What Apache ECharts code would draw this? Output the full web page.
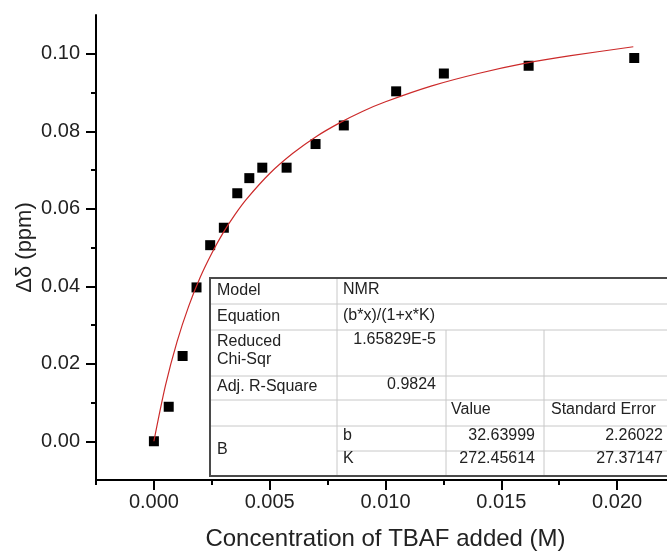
<!DOCTYPE html>
<html>
<head>
<meta charset="utf-8">
<script src="https://cdn.jsdelivr.net/npm/echarts@6/dist/echarts.min.js"></script>
<style>
html,body{margin:0;padding:0;background:#fff;}
#chart{width:667px;height:553px;}
</style>
</head>
<body>
<div id="chart"></div>
<script>
// Measured points
const concX = [0, 0.00064, 0.00124, 0.00184, 0.00243, 0.00302, 0.0036, 0.00412, 0.00468, 0.00573, 0.00698, 0.0082, 0.01046, 0.01252, 0.01618, 0.02074];
const shiftY = [0, 0.0089, 0.0220, 0.0397, 0.0506, 0.0551, 0.0640, 0.0679, 0.0706, 0.0706, 0.0767, 0.0815, 0.0903, 0.0949, 0.0969, 0.0989];
// Fitted curve
const fitX = [0, 0.0005, 0.001, 0.0015, 0.002, 0.0025, 0.003, 0.0035, 0.004, 0.005, 0.006, 0.007, 0.008, 0.009, 0.010, 0.012, 0.014, 0.016, 0.018, 0.0207];
const fitY = [0, 0.0144, 0.0257, 0.0348, 0.0423, 0.0485, 0.0539, 0.0585, 0.0625, 0.0691, 0.0743, 0.0786, 0.0821, 0.0851, 0.0876, 0.0917, 0.0949, 0.0975, 0.0995, 0.1018];
// Ticks
const xMajorTicks = [0, 0.005, 0.010, 0.015, 0.020];
const xMinorTicks = [-0.0025, 0.0025, 0.0075, 0.0125, 0.0175, 0.0225];
const yMajorTicks = [0, 0.02, 0.04, 0.06, 0.08, 0.10];
const yMinorTicks = [0.01, 0.03, 0.05, 0.07, 0.09];
// Table
const tableRows = [
  ['Model', 'NMR'],
  ['Equation', '(b*x)/(1+x*K)'],
  ['Reduced', 'Chi-Sqr', '1.65829E-5'],
  ['Adj. R-Square', '0.9824'],
  ['Value', 'Standard Error'],
  ['B', 'b', '32.63999', '2.26022'],
  ['K', '272.45614', '27.37147']
];

const FONT = '"Liberation Sans", Arial, sans-serif';
const TXT = '#222';

const chart = echarts.init(document.getElementById('chart'), null, {renderer: 'canvas'});

function axisCommon(){
  return {
    type: 'value',
    splitLine: {show: false},
    axisLine: {show: true, onZero: false, lineStyle: {color: '#000', width: 2}}
  };
}

const xMain = Object.assign(axisCommon(), {
  min: -0.0025, max: 0.0225,
  name: 'Concentration of TBAF added (M)', nameLocation: 'middle', nameGap: 47,
  nameTextStyle: {fontSize: 24, color: TXT, fontFamily: FONT},
  axisTick: {show: true, length: 10, lineStyle: {color: '#000', width: 2}, customValues: xMajorTicks},
  axisLabel: {show: true, margin: 12, fontSize: 20, color: TXT, fontFamily: FONT, customValues: xMajorTicks,
    formatter: v => v.toFixed(3)}
});
const xMinor = Object.assign(axisCommon(), {
  min: -0.0025, max: 0.0225, position: 'bottom',
  axisLine: {show: false, onZero: false},
  axisTick: {show: true, length: 5, lineStyle: {color: '#000', width: 2}, customValues: xMinorTicks},
  axisLabel: {show: false}
});
const yMain = Object.assign(axisCommon(), {
  min: -0.01, max: 0.11,
  name: 'Δδ (ppm)', nameLocation: 'middle', nameGap: 60, nameMoveOverlap: false,
  nameTextStyle: {fontSize: 22, color: TXT, fontFamily: FONT},
  axisTick: {show: true, length: 10, lineStyle: {color: '#000', width: 2}, customValues: yMajorTicks},
  axisLabel: {show: true, margin: 16, fontSize: 20, color: TXT, fontFamily: FONT, customValues: yMajorTicks,
    formatter: v => v.toFixed(2)}
});
const yMinor = Object.assign(axisCommon(), {
  min: -0.01, max: 0.11, position: 'left',
  axisLine: {show: false, onZero: false},
  axisTick: {show: true, length: 5, lineStyle: {color: '#000', width: 2}, customValues: yMinorTicks},
  axisLabel: {show: false}
});

// table graphics
const TL = 210, TT = 278, TB = 476, TR = 720;
const C1 = 337, C2 = 446, C3 = 544;
const rowLines = [304, 330, 376, 400, 426];
const g = [];
g.push({type: 'rect', shape: {x: TL, y: TT, width: TR - TL, height: TB - TT},
  style: {fill: '#fff', stroke: '#4a4a4a', lineWidth: 2}, z: 10});
const lineStyle = {stroke: '#c8c8c8', lineWidth: 1};
rowLines.forEach(y => g.push({type: 'line', shape: {x1: TL + 1, y1: y, x2: TR, y2: y}, style: lineStyle, z: 11}));
g.push({type: 'line', shape: {x1: C1, y1: 451, x2: TR, y2: 451}, style: lineStyle, z: 11});
g.push({type: 'line', shape: {x1: C1, y1: TT + 1, x2: C1, y2: TB - 1}, style: lineStyle, z: 11});
g.push({type: 'line', shape: {x1: C2, y1: 330, x2: C2, y2: TB - 1}, style: lineStyle, z: 11});
g.push({type: 'line', shape: {x1: C3, y1: 330, x2: C3, y2: TB - 1}, style: lineStyle, z: 11});
function t(text, x, y, align){
  g.push({type: 'text', x: x, y: y, z: 12,
    style: {text: text, fill: TXT, font: '16px ' + FONT, textAlign: align || 'left', textVerticalAlign: 'middle'}});
}
t(tableRows[0][0], 217, 291); t(tableRows[0][1], 343, 290);
t(tableRows[1][0], 217, 316.5); t(tableRows[1][1], 343, 316);
t(tableRows[2][0], 217, 341.5); t(tableRows[2][1], 217, 360); t(tableRows[2][2], 436, 340, 'right');
t(tableRows[3][0], 217, 387); t(tableRows[3][1], 436, 385, 'right');
t(tableRows[4][0], 451, 410); t(tableRows[4][1], 551, 410);
t(tableRows[5][0], 217, 450); t(tableRows[5][1], 343, 436); t(tableRows[5][2], 535, 436, 'right'); t(tableRows[5][3], 663, 436, 'right');
t(tableRows[6][0], 343, 459); t(tableRows[6][1], 535, 459, 'right'); t(tableRows[6][2], 663, 459, 'right');

chart.setOption({
  animation: false,
  backgroundColor: '#fff',
  grid: {left: 96, right: -8, top: 15, bottom: 73, containLabel: false, outerBoundsMode: 'none'},
  xAxis: [xMain, xMinor],
  yAxis: [yMain, yMinor],
  series: [
    {type: 'scatter', xAxisIndex: 0, yAxisIndex: 0, symbol: 'rect', symbolSize: 10,
     itemStyle: {color: '#000', opacity: 1}, data: concX.map((x, i) => [x, shiftY[i]]), z: 2},
    {type: 'line', xAxisIndex: 0, yAxisIndex: 0, showSymbol: false, smooth: 0.3,
     lineStyle: {color: '#cc2a2a', width: 1.2}, data: fitX.map((x, i) => [x, fitY[i]]), z: 3}
  ],
  graphic: g
});
</script>
</body>
</html>
